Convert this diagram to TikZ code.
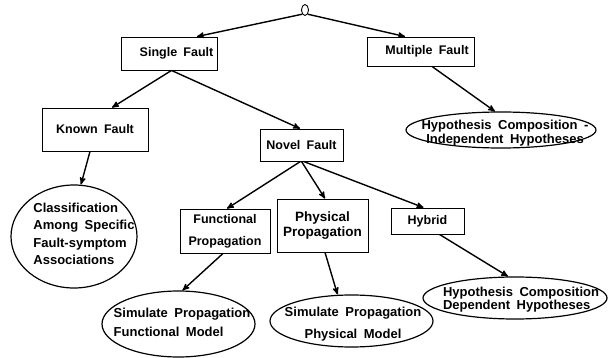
\documentclass[tikz,border=0pt]{standalone}
\usepackage{fontspec}
\setmainfont{Liberation Sans}[WordSpace=1.8]
\usetikzlibrary{positioning, calc, arrows, shapes}
\tikzset{fault/.style={draw, rectangle, line width=0.9pt, font=\bfseries\fontsize{12.5}{14}\selectfont, inner sep=0pt, align=center}}
\tikzset{hyp/.style={draw, ellipse, line width=1.2pt, inner sep=0pt}}
\tikzset{hyptext/.style={font=\bfseries\fontsize{13}{14}\selectfont, inner sep=0pt}}
\tikzset{arr/.style={->, >=stealth', line width=1.4pt}}

\begin{document}
\begin{tikzpicture}[x=1pt, y=-1pt]
      \useasboundingbox (0,0) rectangle (608,358);

      \node[hyp, minimum width=7pt, minimum height=11pt, line width=0.9pt] (root) at (305,10) {};

      % fault kinds
      \node[fault, minimum width=96pt, minimum height=33pt] (single) at (169.5,53.5) {\hspace*{14pt}Single Fault};
      \node[fault, minimum width=107pt, minimum height=29pt] (multiple) at (421,51.5) {\hspace*{12pt}Multiple Fault};
      \node[fault, minimum width=106pt, minimum height=43pt] (known) at (95,129.5) {Known Fault};
      \node[fault, minimum width=83pt, minimum height=32pt] (novel) at (301.5,145) {Novel Fault};
      \node[fault, minimum width=90pt, minimum height=44pt] (functional) at (225,231) {
        Functional\\[8pt]
        Propagation
      };
      \node[fault, minimum width=91pt, minimum height=53pt, font=\bfseries\fontsize{13.5}{14}\selectfont] (physical) at (322.5,225.5) {
        Physical\\[1pt]
        Propagation
      };
      \node[fault, minimum width=73pt, minimum height=26pt] (hybrid) at (427.5,221) {Hybrid};

      % hypotheses
      \node[hyp, minimum width=126pt, minimum height=103pt] (classif) at (74,236.5) {};
      \node[hyptext, align=left] (classif-t) at (84,234) {
        Classification\\[3.5pt]
        Among Specific\\[3.5pt]
        Fault-symptom\\[3.5pt]
        Associations
      };
      \node[hyp, minimum width=190pt, minimum height=36pt] (indep) at (501,130) {};
      \node[hyptext, align=center] (indep-t) at (505,133) {
        Hypothesis Composition -\\
        Independent Hypotheses
      };
      \node[hyp, minimum width=153pt, minimum height=66pt] (simfunc) at (178.5,324) {};
      \node[hyptext, align=left] (simfunc-t) at (182,322.5) {
        Simulate Propagation\\[5pt]
        Functional Model
      };
      \node[hyp, minimum width=163pt, minimum height=52pt] (simphys) at (351.5,321) {};
      \node[hyptext, align=center] (simphys-t) at (353,324) {
        Simulate Propagation\\[8pt]
        Physical Model
      };
      \node[hyp, minimum width=184pt, minimum height=42pt] (dep) at (515,298) {};
      \node[hyptext, align=left] (dep-t) at (521,299.5) {
        Hypothesis Composition\\[-1pt]
        Dependent Hypotheses
      };

      \draw[arr] (root.south west) -- ($(single.north)+(27.5,0)$);
      \draw[arr] (root.south east) -- ($(multiple.north)+(-16,0)$);
      \draw[arr] ($(single.south)+(2,0)$) -- ($(known.north)+(17,0)$);
      \draw[arr] ($(single.south)+(2,0)$) -- ($(novel.north)+(-1.5,0)$);
      \draw[arr] ($(known.south)+(-5,0)$) -- ($(classif.north)+(7,0)$);
      \draw[arr] ($(novel.south)+(-1,0)$) -- ($(functional.north)+(2,0)$);
      \draw[arr] (novel.south) -- ($(physical.north)+(2.5,0)$);
      \draw[arr] ($(novel.south)+(2,0)$) -- ($(hybrid.north)+(-4,0)$);
      \draw[arr] ($(multiple.south)+(11,0)$) -- ($(indep.north)+(-6,0)$);
      \draw[arr] ($(functional.south)+(-2,0)$) -- ($(simfunc.north)+(4,0)$);
      \draw[arr] ($(physical.south)+(2.5,0)$) -- ($(simphys.north)+(-14,0)$);
      \draw[arr] ($(hybrid.south)+(12,0)$) -- ($(dep.north)+(-7,0)$);

\end{tikzpicture}
\end{document}
